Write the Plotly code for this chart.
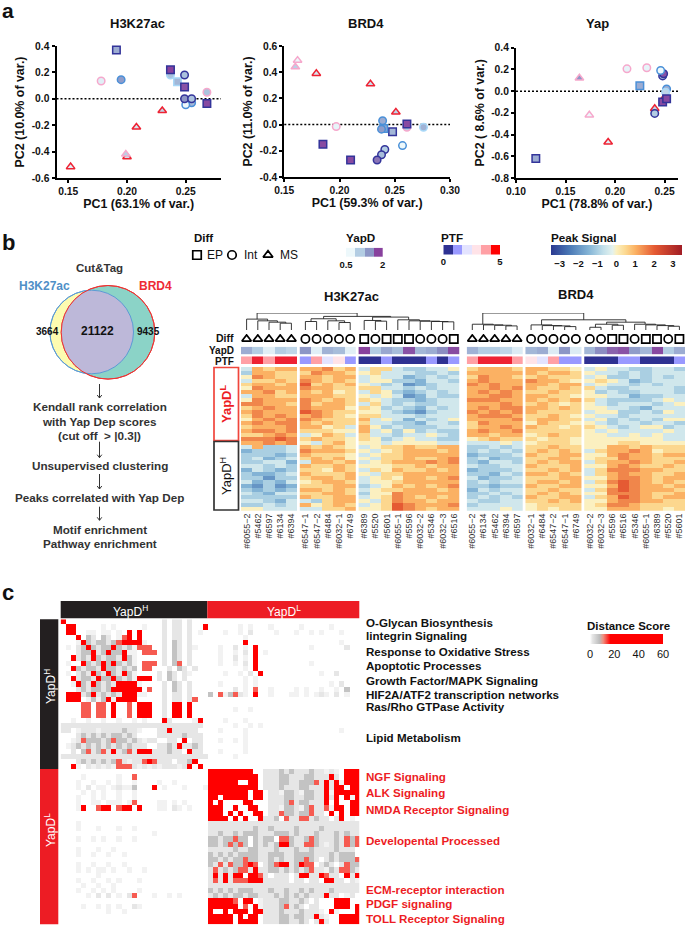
import math
import plotly.graph_objects as go

W, H = 685, 925
FONT = "Liberation Sans"
BLACK = "#111111"
RED = "#ed1c24"
def fx(p): return p / W
def fy(p): return 1 - p / H
def dom_x(a, b): return [fx(a), fx(b)]
def dom_y(top, bottom): return [fy(bottom), fy(top)]

# ---------- panel a data ----------
a1_pc1 = [0.191,0.178,0.195,0.237,0.237,0.243,0.249,0.249,0.268,0.255,0.250,0.249,0.255,0.268,0.152,0.208,0.230,0.200,0.199]
a1_pc2 = [0.370,0.135,0.145,0.180,0.220,0.130,0.090,0.180,0.050,-0.030,-0.045,0.000,0.000,-0.035,-0.515,-0.215,-0.090,-0.440,-0.420]
a1_sym = ["s","c","c","c","s","s","s","c","c","c","c","c","c","s","t","t","t","t","t"]
a1_yapd = [1.3,0.6,1.45,1.1,2.0,1.2,1.9,1.1,1.1,1.2,0.5,1.5,1.1,1.95,0.6,0.7,0.9,0.8,0.95]
a1_ptf = [0,3,1,2,0,2,0,0,3,1,1,0,0,0,5,5,5,5,3]

a2_pc1 = [0.160,0.162,0.179,0.228,0.251,0.197,0.261,0.276,0.185,0.210,0.248,0.240,0.261,0.239,0.238,0.241,0.238,0.234,0.257]
a2_pc2 = [0.440,0.490,0.390,0.310,0.095,-0.015,-0.020,-0.020,-0.150,-0.270,-0.055,-0.030,0.005,0.030,-0.035,-0.190,-0.230,-0.270,-0.160]
a2_sym = ["t","t","t","t","t","c","c","c","s","s","s","s","s","c","c","c","c","c","c"]
a2_yapd = [0.95,0.5,0.7,0.8,0.9,0.55,1.0,1.25,1.95,1.95,1.2,1.35,1.95,1.3,1.45,1.0,1.15,1.7,0.5]
a2_ptf = [3,3,5,5,5,3,3,2,0,0,0,1,0,1,1,0,0,0,1]

a3_pc1 = [0.164,0.174,0.193,0.249,0.240,0.212,0.232,0.248,0.249,0.246,0.252,0.251,0.240,0.120,0.225,0.248,0.252]
a3_pc2 = [0.120,-0.220,-0.470,-0.070,-0.160,0.205,0.215,0.140,0.160,0.190,0.020,-0.010,-0.205,-0.620,0.050,-0.100,-0.070]
a3_sym = ["t","t","t","t","t","c","c","c","c","c","c","c","c","s","s","s","s"]
a3_yapd = [1.5,0.5,0.6,0.9,0.9,0.55,0.55,1.2,1.9,0.5,1.3,0.9,1.0,1.3,1.3,1.95,1.95]
a3_ptf = [3,3,5,5,5,3,3,0,0,1,1,2,0,0,1,0,0]

a1_xticks = [0.15,0.20,0.25]
a2_xticks = [0.15,0.20,0.25,0.30]
a3_xticks = [0.10,0.15,0.20,0.25]
a1_yticks = [-0.6,-0.4,-0.2,0.0,0.2,0.4]
a2_yticks = [-0.4,-0.2,0.0,0.2,0.4,0.6]
a3_yticks = [-0.8,-0.6,-0.4,-0.2,0.0,0.2,0.4]

# ---------- panel b data ----------
venn_counts = ["3664", "21122", "9435"]
h_samples = ["#6055−2","#5462","#6597","#6134","#6394","#6547−1","#6547−2","#6484","#6032−1","#6749",
             "#6389","#5520","#5601","#6055−1","#5596","#6032−2","#5346","#6032−3","#6516"]
b_samples = ["#6055−2","#6134","#5462","#6394","#6597","#6032−1","#6484","#6547−2","#6547−1","#6749",
             "#6032−2","#6032−3","#5596","#6516","#5346","#6055−1","#6389","#5520","#5601"]
h_diff = ["t"]*5 + ["c"]*5 + ["s","c","s","s","s","c","c","c","s"]
b_diff = ["t"]*5 + ["c"]*5 + ["c","c","s","s","c","s","s","c","s"]
h_yapd = [1.3,1.0,0.6,1.0,0.9, 1.5,0.6,1.25,1.15,0.6, 2.0,1.0,1.35,1.15,1.9,1.2,1.3,1.55,1.95]
b_yapd = [1.25,1.0,1.0,0.9,0.65, 1.2,1.3,0.65,1.5,0.65, 1.2,1.55,1.8,1.9,1.45,1.2,1.95,1.0,1.3]
h_ptf = [4,4.5,4,4.5,4.5, 1,4,2,3,1, 0,0,1,0,0,0,1,0,1]
b_ptf = [4,4.5,4.5,4.5,4, 3,2,4,1,1, 0,0,0,1,1,0,0,0,1]
# trees: (height, left, right), leaves are column numbers
h_tree = (50,(32,0,(27,1,(23,2,(20,3,4)))),
          (40,(33,(25,5,6),(27,7,(22,8,9))),
           (38,(28,10,(26,11,12)),(30,13,(27,14,(26,15,(25,16,(24,17,18))))))))
b_tree = (50,(17,0,(15,1,(14,2,(12,3,4)))),
          (30,(15,5,(13,6,(12,7,(10,8,9)))),
           (23,(17,(8,10,11),(14,12,13)),(17,14,(15,15,(13,16,(11,17,18)))))))

# heat rows: digit d means peak signal (d-5)/2
h_rows = [
"47677 77867 466433445","37766 68776 564443343","58766 77677 454423434","46676 87676 455332443",
"67767 96767 543412344","58777 87766 664434344","77867 76756 465323434","47766 77766 545412433",
"58777 87676 654332344","88776 86776 464343344","67877 87775 653432434","78777 98766 554321344",
"68787 78765 664443444","57878 87666 745424345","78788 76766 644332443","67778 77564 753433344",
"78878 66655 745353433","66787 45764 644344543","88898 67665 653454433","77878 54675 554555544",
"47334 76765 456676677","23334 87776 545677767","33323 76665 456677777","34234 67675 546676678",
"33442 47767 456777878","44343 76676 555667677","24323 66576 465766767","32234 76667 546677777",
"33133 67767 456577678","42324 56776 455677777","21312 66677 345767678","32323 77676 456677767",
"43244 66776 355877777","33333 76677 456876767","44324 43677 546877677","33434 75676 456987778",
"55444 44667 556987677"]
b_rows = [
"67776 77665 454433443","77777 76776 544343444","68776 67666 453343434","78777 87765 565423444",
"87877 77677 454434344","77878 76676 643344443","78787 66766 534334443","77887 77665 554423344",
"88877 76767 643333454","77787 67656 543444345","78788 77676 554432444","87878 76666 455334354",
"78887 66765 544344444","77778 67766 453434355","68777 57665 543443443","67787 76656 654345534",
"78778 66666 545444454","77677 56766 554454544","56766 65665 555555544","44454 56665 555665555",
"33434 66766 557767666","34343 67676 467787566","23334 76677 557877677","34233 66776 566877666",
"32443 67677 467787667","43344 76667 557876676","23334 66767 468887766","33243 77676 467877667",
"42334 66677 557887677","34344 67767 468987676","33233 76677 557987767","24344 66766 468987776",
"33434 67676 558887667","34343 76677 467987677","43344 66767 557887766","34444 56666 568876666",
"44454 56566 557776656"]

# ---------- panel c data: ' '=0 .=1 -=2 g=7 o=13 r=40 ----------
hh = [
"r                   - -- -   ",
" rr     . .     .   - -- -  r",
" rr  .. .. . r r    - -- - . ",
"   r g- g- .or r    - -- -   ",
"   .rg-gg-gorrrr.   - g- -   ",
" . -grg-ggrg-g.ooo  - g- -.  ",
"   -ggr-grggr.. ooo - g- -   ",
"  r-g-rg-gg-rg.     - g- -   ",
" .  rg-grgrg-g. ooo - go -   ",
"  rg-gg-rgg-g-g oo   - g- -  ",
" . -g-rg-rg-rg.    - g- -.   ",
"  r-gg-rggrg-g.rrr - g- -    ",
"  .rg-rg-g-rrrr.    - g- -   ",
"   -g-gg-grrrrrr o  - g- -   ",
" rrr-gr-g-g-rrr..   - -- -   ",
" rrr .g.gr.rrrr     - -- -o  ",
"    oo oo r  o rrr  - rr r   ",
"    oo oo r  o rrr  - rr r   ",
"    oo oo r  o rrr  - rr r   ",
"  .  .  .  .  . .   r-    .r ",
"---------------------------- ",
"-- .---.----g--.   --r-----  ",
"   -g-g-g-gg-g-    -----g--- ",
"  .-oggg-gogg-g-.--  -- r -- ",
" .-g-g-g-g-g-g---  --g-r--g- ",
"  - go-go-r-go-rrr---g-- r-- ",
"-----------------------------",
"   -g-g-g-go-.--oro--- --gr  ",
"  r. -.-.-.ooo-.-.-.---.-r r ",
]
hl = [
"                              ",
"      . .   .     .     .     ",
"   .  . -    .   .  . .   .   ",
"       .                      ",
"       r                  .   ",
"  .  - . r          .      -  ",
"  .  . - r .                  ",
"  .  - . r                    ",
"  .  . - r          .         ",
"       . r                    ",
"   .  . - r           .  -    ",
"       . .                    ",
"  .    . .              . -   ",
"     - . o  .    . .  .  . g  ",
"g o.go-. r  .   .. . .-. - .  ",
"                              ",
"                              ",
"     .  .                     ",
"                              ",
"   .   .                      ",
"     .  . .                   ",
"  .    .                  .    ",
"       .                      ",
"  .  . .                      ",
"       .                      ",
"  .    .                      ",
"     .                        ",
"                              ",
"                              ",
]
lh = [
"                             ",
"    .      .  o              ",
"   .  .  . .  .    .  .      ",
"   . - .. .-..g   r .   .   .",
"    . . .  .  .              ",
"   .  . .  .  .              ",
"   .  .. ... .o    .. . .    ",
"   .r  orr orr r   .. -. .   ",
"                             ",
"                             ",
"   .                         ",
"   .   .   .  .              ",
"                  .          ",
"   .  . .  .  .              ",
"                             ",
"   .   .  .                  ",
"   .  .  .  .                ",
"                             ",
"   .  .  .  .                ",
"   . . .. .  .  .            ",
"       .                     ",
"   .  .  . .   .             ",
"    .  .  .                  ",
"   .  . . .    .             ",
"     . - - . -o   .  . .     ",
"                             ",
"    .  . . .  -.             ",
"         .  .                ",
"                             ",
"                             ",
]
ll = [
"rrrrrrrrr  ---g-g---g--.-. rrr",
"rrrrrrrrrr ---gg---gg---r- rrr",
"rrrrrr  rr ---gg--gggo-r-r.rrr",
"rrrrrrrrrr ---g---gg---r-rr rr",
"rrrrrrrr rr --.gg-.gg--r.rrrrr",
"rr rrrrr rr ---gg--gg--r-r r.r",
"r r    rr   ---go-gg---r r  rr",
"rrr  r  rr  --.gg-.go--o.rr rr",
"rrr r r  rr --ogg-ggo-- r r rr",
"rrrr r r  r--g o--oo-g-- -r . ",
"------------------------------",
"---------g--g----g----g-------",
"--g--g-ggg---ggg-g---g---g-g--",
"gg-ggogg g-gg oog--gog---g-ogo",
"gg-gogog g-g-grrg--oog-.-g-ogo",
"-----g--gg---g---g--g----g--- ",
"g-g-g-gggg--ggg--gggg---g-ggg ",
"gg-g-ggogg--g-g--ggog- -g-gggo",
"g-o-oggoro -gorr-groo -g- -ogg",
"-o-g-goo-r--gg-g-g-go--.g-oog-",
"-r-r-rr rro- --- -rr--ro-- r-r",
"-o-r-ooorrr----- -- -- rr-- -.",
"------------------------------",
"g-g-g-ggg---g--g--g-g---g-----",
"-g-g-gg-gg---g-g-g-g---r-- .- ",
"rrrrro rr .---gg--g- -   rrr  ",
"rrrrrr o r.---go-g- --   rrr r",
"r  r rrr rr---g---g---. r.   r",
"rrrrr r rr ---gg-gg--r-.  rrrr",
"rrrrr rrrr ---gg--g- -r-  rrrr",
]
c_levels = {" ":0, ".":1, "-":2, "g":7, "o":13, "r":40}

category_labels_black = ["O-Glycan Biosynthesis","lintegrin Signaling","Response to Oxidative Stress","Apoptotic Processes",
    "Growth Factor/MAPK Signaling","HIF2A/ATF2 transcription networks","Ras/Rho GTPase Activity","Lipid Metabolism"]
category_labels_red = ["NGF Signaling","ALK Signaling","NMDA Receptor Signaling","Developental Processed",
    "ECM-receptor interaction","PDGF signaling","TOLL Receptor Signaling"]

# ---------- helpers ----------
fig = go.Figure()
layout = dict(
    width=W, height=H, autosize=False, margin=dict(l=0,r=0,t=0,b=0,autoexpand=False),
    paper_bgcolor="white", plot_bgcolor="white", showlegend=False,
    font=dict(family=FONT, color=BLACK),
)
annotations, shapes = [], []
def text(x, y, s, size=11, color=BLACK, bold=True, anchor="center", angle=0):
    annotations.append(dict(xref="paper", yref="paper", x=fx(x), y=fy(y), text=f"<b>{s}</b>" if bold else s,
        showarrow=False, xanchor=anchor, yanchor="middle", textangle=angle,
        font=dict(size=size, color=color, family=FONT)))

layout["coloraxis"] = dict(cmin=-3.47, cmax=3.46, colorscale=[
    [0.0,"#2b3990"],[0.14,"#4a78b5"],[0.29,"#85b5d6"],[0.40,"#c3e0ea"],[0.47,"#e4f2ee"],
    [0.50,"#fbf0c0"],[0.57,"#fcd890"],[0.645,"#fbb163"],[0.79,"#e55a33"],[1.0,"#a11d25"]],
    colorbar=dict(orientation="h", x=fx(550.7), xanchor="left", y=fy(245), yanchor="top", lenmode="pixels", len=131.3,
        thicknessmode="pixels", thickness=9.5, xpad=0, ypad=0, outlinewidth=0, ticks="", tickvals=[-3,-2,-1,0,1,2,3],
        ticktext=["<b>−3</b>","<b>−2</b>","<b>−1</b>","<b>0</b>","<b>1</b>","<b>2</b>","<b>3</b>"],
        tickfont=dict(size=9.5,family=FONT,color=BLACK), ticklabelposition="outside"))
layout["coloraxis2"] = dict(cmin=0.5, cmax=2, showscale=False, colorscale=[
    [0,"#edf8fb"],[1/3,"#b3cde3"],[2/3,"#8c96c6"],[1,"#88419d"]])
layout["coloraxis3"] = dict(cmin=0, cmax=5, showscale=False, colorscale=[
    [0,"#2e3192"],[0.2,"#9999ff"],[0.4,"#e3e3ff"],[0.6,"#ffe3e8"],[0.8,"#ffa0a5"],[0.9,"#ee2233"],[1,"#ff0000"]])
layout["coloraxis4"] = dict(cmin=0, cmax=60, colorscale=[
    [0,"#ffffff"],[0.033,"#e6e6e6"],[0.13,"#bdbdbd"],[0.18,"#f09080"],[0.28,"#ff0000"],[1,"#ff0000"]],
    colorbar=dict(orientation="h", x=fx(590), xanchor="left", y=fy(634), yanchor="top", lenmode="pixels", len=73,
        thicknessmode="pixels", thickness=10, xpad=0, ypad=0, outlinewidth=0, ticks="", tickvals=[0,20,40,60],
        tickfont=dict(size=11,family=FONT,color=BLACK), tickprefix="<b>", ticksuffix="</b>"))

SYM = {"s":"square-open","c":"circle-open","t":"triangle-up-open"}
SYMF = {"s":"square","c":"circle","t":"triangle-up"}
EDGE = {0:"#33349a",1:"#4a90d8",2:"#a8d8f8",3:"#f6a8cc",5:"#ee2233"}

def pca_panel(n, xd, yd, xr, yr, xticks, yticks, pc1, pc2, sym, yapd, ptf, xt, yt, title, title_x):
    xa, ya = f"xaxis{n}", f"yaxis{n}"
    axis_common = dict(showgrid=False, zeroline=False, showline=True, linecolor="black", linewidth=2,
        ticks="outside", ticklen=3, tickwidth=1.5, tickcolor="black",
        tickfont=dict(size=10.3,color=BLACK,family=FONT), tickmode="array")
    layout[xa] = dict(domain=dom_x(*xd), range=xr, anchor=f"y{n}", tickvals=xticks,
        ticktext=[f"<b>{v:.2f}</b>" for v in xticks],
        title=dict(text=f"<b>{xt}</b>", font=dict(size=12.4,family=FONT,color=BLACK), standoff=3), **axis_common)
    layout[ya] = dict(domain=dom_y(*yd), range=yr, anchor=f"x{n}", tickvals=yticks,
        ticktext=[f"<b>{v:.1f}</b>" for v in yticks],
        title=dict(text=f"<b>{yt}</b>", font=dict(size=12.4,family=FONT,color=BLACK), standoff=4), **axis_common)
    fig.add_trace(go.Scatter(x=pc1, y=pc2, mode="markers", xaxis=f"x{n}", yaxis=f"y{n}", cliponaxis=False,
        marker=dict(symbol=[SYMF[s] for s in sym], size=7.5, color=yapd, coloraxis="coloraxis2",
                    line=dict(width=1.5, color=[EDGE[p] for p in ptf]))))
    shapes.append(dict(type="line", xref=f"x{n} domain", yref=f"y{n}", x0=0, x1=1, y0=0, y1=0,
                       line=dict(color="black", width=1.5, dash="2px,2px"), layer="below"))
    text(title_x, 24, title, size=13)

pca_panel(2,(56.5,221),(46,178),[0.14,0.28],[-0.6,0.4],a1_xticks,a1_yticks,a1_pc1,a1_pc2,a1_sym,a1_yapd,a1_ptf,
          "PC1 (63.1% of var.)","PC2 (10.0% of var.)","H3K27ac",137)
pca_panel(3,(284.3,450),(46,177),[0.15,0.30],[-0.4,0.6],a2_xticks,a2_yticks,a2_pc1,a2_pc2,a2_sym,a2_yapd,a2_ptf,
          "PC1 (59.3% of var.)","PC2 (11.0% of var.)","BRD4",366)
pca_panel(4,(516,678),(47.7,178),[0.10,0.2635],[-0.8,0.4],a3_xticks,a3_yticks,a3_pc1,a3_pc2,a3_sym,a3_yapd,a3_ptf,
          "PC1 (78.8% of var.)","PC2 ( 8.6% of var.)","Yap",597.7)

text(0,10,"a",size=21,anchor="left"); text(0,242,"b",size=22,anchor="left"); text(0,592,"c",size=22,anchor="left")

# ---------- heat panels ----------
blocks = [(0,5),(5,10),(10,19)]
GAP = 0.25
def col_pos(i):
    return i + GAP*(0 if i<5 else 1 if i<10 else 2)

def hidden(**k):
    d = dict(visible=False, showgrid=False, zeroline=False, fixedrange=True)
    d.update(k); return d

def tree_segments(node, xs, ys):
    if isinstance(node, int):
        return col_pos(node), 0
    h, l, r = node
    lx, lh_ = tree_segments(l, xs, ys)
    rx, rh_ = tree_segments(r, xs, ys)
    xs += [lx, lx, rx, rx, None]
    ys += [lh_, h, h, rh_, None]
    return (lx+rx)/2, h

def heat_panel(base, x0, x1, samples, rows, diff, yapd, ptf, tree):
    nx = f"x{base}"; xa = f"xaxis{base}"
    ids = dict(heat=base, ptf=base+1, yapd=base+2, diff=base+3, tree=base+4)
    n_cols = 19
    layout[xa] = dict(domain=dom_x(x0,x1), range=[-0.5, n_cols-0.5+2*GAP], anchor=f"y{ids['heat']}",
        showgrid=False, zeroline=False, showline=False, ticks="", tickmode="array",
        tickvals=[col_pos(i) for i in range(n_cols)], ticktext=samples, tickangle=-90,
        tickfont=dict(size=9,color="#333333",family=FONT))
    layout[f"yaxis{ids['heat']}"] = hidden(domain=dom_y(367,510.7), range=[len(rows)-0.5,-0.5], anchor=nx)
    layout[f"yaxis{ids['ptf']}"] = hidden(domain=dom_y(356.3,364), range=[-0.5,0.5], anchor=nx)
    layout[f"yaxis{ids['yapd']}"] = hidden(domain=dom_y(346.7,354.3), range=[-0.5,0.5], anchor=nx)
    layout[f"yaxis{ids['diff']}"] = hidden(domain=dom_y(334,344), range=[-0.5,0.5], anchor=nx)
    layout[f"yaxis{ids['tree']}"] = hidden(domain=dom_y(313,330), range=[0,50], anchor=nx)
    parsed = [[(int(c)-5)/2 for c in r.replace(" ","")] for r in rows]
    for a,b in blocks:
        xs = [col_pos(i) for i in range(a,b)]
        fig.add_trace(go.Heatmap(x=xs, y=list(range(len(rows))), z=[r[a:b] for r in parsed], coloraxis="coloraxis",
                                 xaxis=nx, yaxis=f"y{ids['heat']}"))
        fig.add_trace(go.Heatmap(x=xs, y=[0], z=[ptf[a:b]], coloraxis="coloraxis3", xaxis=nx, yaxis=f"y{ids['ptf']}"))
        fig.add_trace(go.Heatmap(x=xs, y=[0], z=[yapd[a:b]], coloraxis="coloraxis2", xaxis=nx, yaxis=f"y{ids['yapd']}"))
    fig.add_trace(go.Scatter(x=[col_pos(i) for i in range(n_cols)], y=[0]*n_cols, mode="markers", xaxis=nx, yaxis=f"y{ids['diff']}",
        marker=dict(symbol=[SYM[s] for s in diff], size=8.2, color="black", line=dict(width=1.7,color="black"))))
    xs, ys = [], []
    tree_segments(tree, xs, ys)
    fig.add_trace(go.Scatter(x=xs, y=ys, mode="lines", xaxis=nx, yaxis=f"y{ids['tree']}", line=dict(color="#222222",width=0.9)))

heat_panel(10, 241, 459.4, h_samples, h_rows, h_diff, h_yapd, h_ptf, h_tree)
heat_panel(20, 466.7, 685, b_samples, b_rows, b_diff, b_yapd, b_ptf, b_tree)
text(351,296,"H3K27ac",size=13); text(576,294,"BRD4",size=13)
text(236,338.3,"Diff",size=10.5,anchor="right"); text(236,350,"YapD",size=10,anchor="right"); text(236,361,"PTF",size=10,anchor="right")

# side boxes
shapes.append(dict(type="rect",xref="paper",yref="paper",x0=fx(214),x1=fx(238.5),y0=fy(367.5),y1=fy(440.5),line=dict(color="#f0463c",width=1.7)))
shapes.append(dict(type="rect",xref="paper",yref="paper",x0=fx(214),x1=fx(238.5),y0=fy(441.5),y1=fy(510),line=dict(color="#333333",width=1.7)))
text(226,403,"YapD<sup>L</sup>",size=13,color=RED,angle=-90)
text(226,476,"YapD<sup>H</sup>",size=13,bold=False,angle=-90)

# legends of panel b
text(203,237.7,"Diff",size=11.5); text(361,237.7,"YapD",size=11.7); text(452,237.7,"PTF",size=11.7); text(584,237.7,"Peak Signal",size=11.7)
layout["xaxis30"] = hidden(domain=dom_x(187,300), range=[187,300], anchor="y30")
layout["yaxis30"] = hidden(domain=dom_y(248,262), range=[-1,1], anchor="x30")
diff_keys = [("s","EP"),("c","Int"),("t","MS")]
for i,(s,lab) in enumerate(diff_keys):
    fig.add_trace(go.Scatter(x=[[197,232,268][i]], y=[0], mode="markers", xaxis="x30", yaxis="y30",
        marker=dict(symbol=SYM[s], size=8.5, color="black", line=dict(width=1.7,color="black"))))
text(215,255,"EP",size=12,bold=False); text(251,255,"Int",size=12,bold=False); text(288.7,255,"MS",size=12,bold=False)

yapd_key = [0.5,1,1.5,2]
ptf_key = [0,1,2,3,4,5]
layout["xaxis31"] = dict(domain=dom_x(346,382.7), range=[-0.5,3.5], anchor="y31", showgrid=False, zeroline=False, ticks="",
    tickmode="array", tickvals=[-0.5,3.5], ticktext=["<b>0.5</b>","<b>2</b>"], tickfont=dict(size=9.5,family=FONT,color=BLACK))
layout["yaxis31"] = hidden(domain=dom_y(247.7,257), range=[-0.5,0.5], anchor="x31")
fig.add_trace(go.Heatmap(x=list(range(4)), y=[0], z=[yapd_key], coloraxis="coloraxis2", xaxis="x31", yaxis="y31"))
layout["xaxis32"] = dict(domain=dom_x(443.3,500), range=[-0.5,5.5], anchor="y32", showgrid=False, zeroline=False, ticks="",
    tickmode="array", tickvals=[-0.5,5.5], ticktext=["<b>0</b>","<b>5</b>"], tickfont=dict(size=9.5,family=FONT,color=BLACK))
layout["yaxis32"] = hidden(domain=dom_y(245,254.6), range=[-0.5,0.5], anchor="x32")
fig.add_trace(go.Heatmap(x=list(range(6)), y=[0], z=[ptf_key], coloraxis="coloraxis3", xaxis="x32", yaxis="y32"))

# ---------- venn ----------
hc = (91.7, 332.0, 41.8)
bc = (108.0, 332.3, 46.8)
def circ(c, fill, line, width=1):
    shapes.append(dict(type="circle", xref="paper", yref="paper", x0=fx(c[0]-c[2]), x1=fx(c[0]+c[2]),
        y0=fy(c[1]+c[2]), y1=fy(c[1]-c[2]), fillcolor=fill, line=dict(color=line,width=width)))
circ(hc,"#fdfbb0","#5b9bd5"); circ(bc,"#8bd3c7","#ee3333")
pts = []
for k in range(360):
    t = math.radians(k)
    for c,o in ((hc,bc),(bc,hc)):
        px_, py_ = c[0]+c[2]*math.cos(t), c[1]+c[2]*math.sin(t)
        if (px_-o[0])**2+(py_-o[1])**2 <= o[2]**2:
            pts.append((px_,py_))
cx = sum(p[0] for p in pts)/len(pts); cy = sum(p[1] for p in pts)/len(pts)
pts.sort(key=lambda p: math.atan2(p[1]-cy,p[0]-cx))
shapes.append(dict(type="path", xref="paper", yref="paper", fillcolor="#bdb8d9", line=dict(width=0),
    path="M"+" L".join(f"{fx(p[0]):.5f},{fy(p[1]):.5f}" for p in pts)+" Z"))
circ(hc,"rgba(0,0,0,0)","#5b9bd5"); circ(bc,"rgba(0,0,0,0)","#ee3333")
text(100,268,"Cut&amp;Tag",size=11.5,color="#333333")
text(44,286,"H3K27ac",size=12,color="#4f8fc7"); text(155,286,"BRD4",size=12,color="#ee2a35")
text(47,331,venn_counts[0],size=10,color="#111111"); text(97,331,venn_counts[1],size=12,color="#111111"); text(148,331,venn_counts[2],size=10,color="#111111")
for s,y in [("Kendall rank correlation",406.7),("with Yap Dep scores",421),("(cut off  &gt; |0.3|)",435.3),("Unsupervised clustering",465.7),
            ("Peaks correlated with Yap Dep",497.7),("Motif enrichment",529),("Pathway enrichment",543)]:
    text(100,y,s,size=11.7,color="#333333")
for y0,y1 in [(384,398),(441.7,457.7),(474,489),(506.7,520.3)]:
    shapes.append(dict(type="line",xref="paper",yref="paper",x0=fx(99.5),x1=fx(99.5),y0=fy(y0),y1=fy(y1),line=dict(color="#333333",width=1)))
    shapes.append(dict(type="path",xref="paper",yref="paper",line=dict(color="#333333",width=1),
        path=f"M{fx(97.2):.5f},{fy(y1-3):.5f} L{fx(99.5):.5f},{fy(y1):.5f} L{fx(101.8):.5f},{fy(y1-3):.5f}"))

# ---------- panel c ----------
rows_c = [ (a.ljust(29)[:29] + b.ljust(30)[:30]) for a,b in zip(hh,hl) ] + [ (a.ljust(29)[:29] + b.ljust(30)[:30]) for a,b in zip(lh,ll) ]
z_c = [[c_levels[ch] for ch in r] for r in rows_c]
layout["xaxis40"] = hidden(domain=dom_x(60.7,359.3), range=[-0.5,58.5], anchor="y40")
layout["yaxis40"] = hidden(domain=dom_y(619.3,924.3), range=[58.5,-0.5], anchor="x40")
fig.add_trace(go.Heatmap(z=z_c, coloraxis="coloraxis4", xaxis="x40", yaxis="y40"))
for x0,x1,y0,y1,col in [(60.7,207.3,601,618.3,"#231f20"),(207.3,359.3,601,618.3,RED),(40,58.3,619.3,769,"#231f20"),(40,58.3,769,924.3,RED)]:
    shapes.append(dict(type="rect",xref="paper",yref="paper",x0=fx(x0),x1=fx(x1),y0=fy(y0),y1=fy(y1),fillcolor=col,line=dict(width=0)))
text(130,611,"YapD<sup>H</sup>",size=12,color="white",bold=False)
text(283.7,611,"YapD<sup>L</sup>",size=12,color="white",bold=False)
text(50,686,"YapD<sup>H</sup>",size=12,color="white",bold=False,angle=-90)
text(50,830,"YapD<sup>L</sup>",size=12,color="white",bold=False,angle=-90)
for s,y in zip(category_labels_black,[622,635.7,651,665.7,680.7,694.7,706.7,737]):
    text(364,y,s,size=11.6,anchor="left")
for s,y in zip(category_labels_red,[776.7,792.7,809.7,840.3,889.3,903.7,918.3]):
    text(364,y,s,size=11.6,color=RED,anchor="left")
text(628.7,625.7,"Distance Score",size=11.5)

layout["annotations"] = annotations
layout["shapes"] = shapes
fig.update_layout(**layout)
fig.write_html("out.html", post_script="document.body.style.margin='0';", config={"displayModeBar":False})
